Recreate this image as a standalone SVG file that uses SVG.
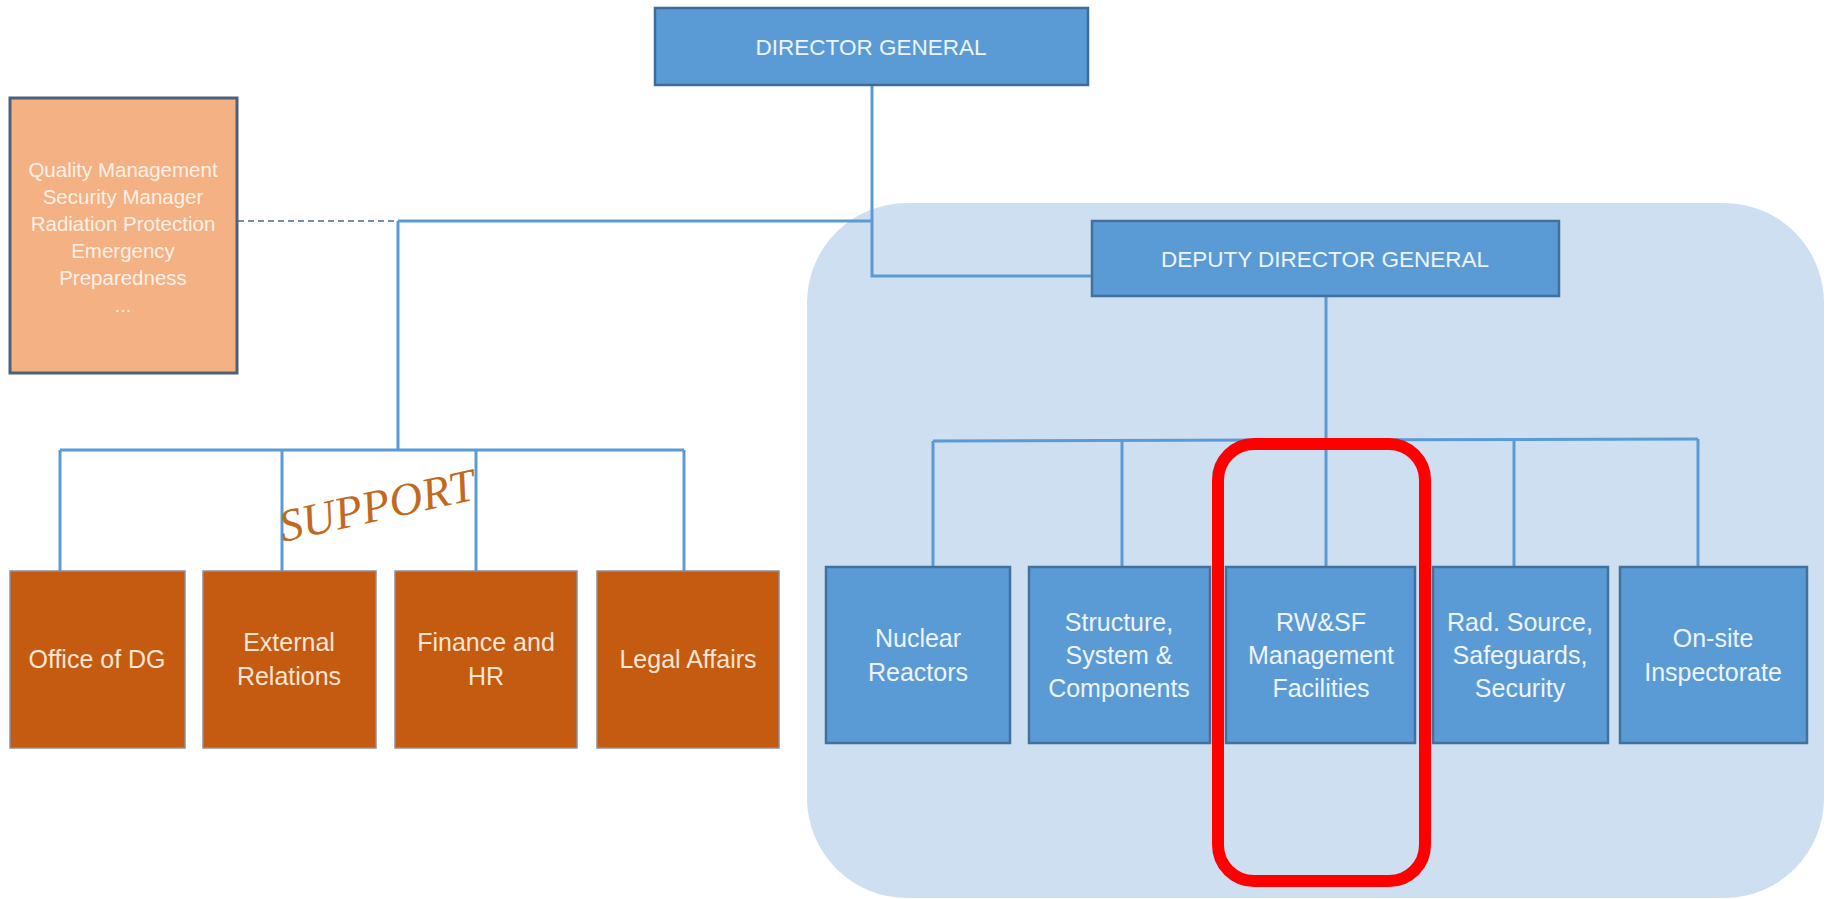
<svg xmlns="http://www.w3.org/2000/svg" width="1831" height="899" viewBox="0 0 1831 899">
<style>
.conn{stroke:#5B9BD5;stroke-width:3;fill:none}
.dash{stroke:#6F8FB8;stroke-width:2;fill:none;stroke-dasharray:6 4}
.blue{fill:#5B9BD5;stroke:#41719C;stroke-width:2.5}
.brown{fill:#C55A11;stroke:#8E8E99;stroke-width:1.5}
.peach{fill:#F4B183;stroke:#4F6079;stroke-width:3}
.t{font-family:"Liberation Sans",Arial,sans-serif;text-anchor:middle}
.tb{fill:#EEF4FB;font-size:25px}
.tbr{fill:#F8E6D4;font-size:25px}
.th{fill:#EEF4FB;font-size:22.5px}
.tp{fill:#FDF0E6;font-size:20.5px}
</style>
<rect width="1831" height="899" fill="#FFFFFF"/>
<rect id="region" x="807" y="203" width="1017" height="695" rx="100" ry="100" fill="#CDDFF1"/>
<g id="connectors">
<polyline class="conn" points="872,85 872,276 1092,276"/>
<line class="conn" x1="398" y1="221" x2="872" y2="221"/>
<line class="dash" x1="238" y1="221" x2="398" y2="221"/>
<line class="conn" x1="398" y1="221" x2="398" y2="450"/>
<line class="conn" x1="60" y1="450" x2="684" y2="450"/>
<line class="conn" x1="60" y1="450" x2="60" y2="571"/>
<line class="conn" x1="282" y1="450" x2="282" y2="571"/>
<line class="conn" x1="476" y1="450" x2="476" y2="571"/>
<line class="conn" x1="684" y1="450" x2="684" y2="571"/>
<line class="conn" x1="1326" y1="296" x2="1326" y2="440"/>
<line class="conn" x1="933" y1="441" x2="1698" y2="439"/>
<line class="conn" x1="933" y1="441" x2="933" y2="567"/>
<line class="conn" x1="1122" y1="440" x2="1122" y2="567"/>
<line class="conn" x1="1326" y1="440" x2="1326" y2="567"/>
<line class="conn" x1="1514" y1="440" x2="1514" y2="567"/>
<line class="conn" x1="1698" y1="439" x2="1698" y2="567"/>
</g>
<g id="dg">
<rect class="blue" x="655" y="8" width="433" height="77" style="stroke:#3E6C98"/>
<text class="t th" x="871" y="55">DIRECTOR GENERAL</text>
</g>
<g id="staff">
<rect class="peach" x="10" y="98" width="227" height="275"/>
<text class="t tp" x="123" y="177">Quality Management</text>
<text class="t tp" x="123" y="204">Security Manager</text>
<text class="t tp" x="123" y="231">Radiation Protection</text>
<text class="t tp" x="123" y="258">Emergency</text>
<text class="t tp" x="123" y="285">Preparedness</text>
<text class="t tp" x="123" y="312">...</text>
</g>
<g id="ddg">
<rect class="blue" x="1092" y="221" width="467" height="75"/>
<text class="t th" x="1325" y="267">DEPUTY DIRECTOR GENERAL</text>
</g>
<g id="office-dg">
<rect class="brown" x="10" y="571" width="175" height="177"/>
<text class="t tbr" x="97" y="668">Office of DG</text>
</g>
<g id="external-relations">
<rect class="brown" x="203" y="571" width="173" height="177"/>
<text class="t tbr" x="289" y="651">External</text>
<text class="t tbr" x="289" y="685">Relations</text>
</g>
<g id="finance-hr">
<rect class="brown" x="395" y="571" width="182" height="177"/>
<text class="t tbr" x="486" y="651">Finance and</text>
<text class="t tbr" x="486" y="685">HR</text>
</g>
<g id="legal-affairs">
<rect class="brown" x="597" y="571" width="182" height="177"/>
<text class="t tbr" x="688" y="668">Legal Affairs</text>
</g>
<text id="support-label" x="283" y="542" transform="rotate(-12.5 283 542)" font-family="'Liberation Serif',serif" font-style="italic" font-size="46" fill="#C2691F">SUPPORT</text>
<g id="nuclear-reactors">
<rect class="blue" x="826" y="567" width="184" height="176"/>
<text class="t tb" x="918" y="647">Nuclear</text>
<text class="t tb" x="918" y="681">Reactors</text>
</g>
<g id="ssc">
<rect class="blue" x="1029" y="567" width="181" height="176"/>
<text class="t tb" x="1119" y="631">Structure,</text>
<text class="t tb" x="1119" y="664">System &amp;</text>
<text class="t tb" x="1119" y="697">Components</text>
</g>
<g id="rwsf">
<rect class="blue" x="1226" y="567" width="189" height="176"/>
<text class="t tb" x="1321" y="631">RW&amp;SF</text>
<text class="t tb" x="1321" y="664">Management</text>
<text class="t tb" x="1321" y="697">Facilities</text>
</g>
<g id="rad-source">
<rect class="blue" x="1433" y="567" width="175" height="176"/>
<text class="t tb" x="1520" y="631">Rad. Source,</text>
<text class="t tb" x="1520" y="664">Safeguards,</text>
<text class="t tb" x="1520" y="697">Security</text>
</g>
<g id="onsite">
<rect class="blue" x="1620" y="567" width="187" height="176"/>
<text class="t tb" x="1713" y="647">On-site</text>
<text class="t tb" x="1713" y="681">Inspectorate</text>
</g>
<rect id="highlight" x="1218" y="444" width="207" height="437" rx="36" ry="36" fill="none" stroke="#FF0000" stroke-width="12"/>
</svg>
